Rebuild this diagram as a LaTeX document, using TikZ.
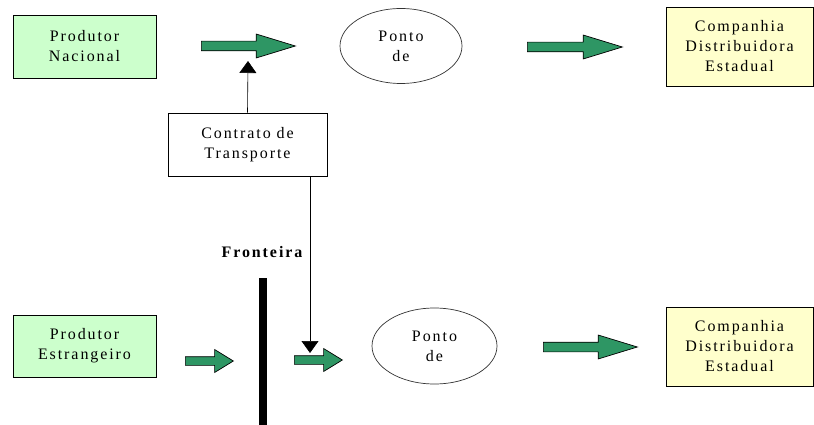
\documentclass[tikz,border=0pt]{standalone}
\usepackage{fontspec}
\setmainfont{Liberation Serif}[LetterSpace=12]
\usepackage{tikz}
\usetikzlibrary{arrows.meta,shapes.geometric,shapes.arrows}
\definecolor{verdeclaro}{RGB}{204,255,204}
\definecolor{amareloclaro}{RGB}{255,255,204}
\definecolor{verdeseta}{RGB}{46,150,100}

\begin{document}
\begin{tikzpicture}[x=1pt, y=-1pt, font=\fontsize{16}{20}\selectfont,
        caixa/.style={draw, line width=0.8pt, align=center, inner sep=0pt},
        ponto/.style={draw=black!80, ellipse, line width=0.7pt, align=center, inner sep=0pt},
        setalonga/.style={single arrow, draw, fill=verdeseta, line width=0.7pt, inner sep=4.5pt,
            minimum width=15pt, single arrow tip angle=34, minimum height=#1, anchor=tail},
        setacurta/.style={single arrow, draw, fill=verdeseta, line width=0.7pt, inner sep=4pt,
            minimum width=16pt, single arrow tip angle=63, minimum height=#1, anchor=tail},
        contrato/.style={-{Triangle[width=17pt,length=12pt]}, line width=0.6pt}]
        \useasboundingbox (0,0) rectangle (814,425);
        % linha de cima
        \node[caixa, fill=verdeclaro, minimum width=143pt, minimum height=63pt] (prodnac) at (84.5,46.5) {Produtor\\Nacional};
        \node[setalonga=94pt] (s1) at (201,46) {};
        \node[ponto, minimum width=122pt, minimum height=75pt] (ponto1) at (401,46) {Ponto\\de};
        \node[setalonga=95pt] (s2) at (527,47) {};
        \node[caixa, fill=amareloclaro, minimum width=147pt, minimum height=79pt] (comp1) at (739.5,46.5) {Companhia\\Distribuidora\\Estadual};
        % contrato
        \node[caixa, fill=white, minimum width=159pt, minimum height=63pt] (transp) at (247.5,144.5) {Contrato de\\Transporte};
        \coordinate (topo) at (248,61);
        \draw[contrato] (transp.north) -- (topo);
        % fronteira
        \node[font=\fontsize{16}{20}\selectfont\bfseries] (front) at (262,252) {Fronteira};
        \fill[black] (259,278) rectangle (267,425);
        % linha de baixo
        \node[caixa, fill=verdeclaro, minimum width=143pt, minimum height=62pt] (prodest) at (84.5,346) {Produtor\\Estrangeiro};
        \node[setacurta=48pt] (s3) at (185,361) {};
        \node[setacurta=48pt] (s4) at (294,360) {};
        \coordinate (fim) at (310,353);
        \draw[contrato] (transp.south -| fim) -- (fim);
        \node[ponto, minimum width=125pt, minimum height=76pt] (ponto2) at (434.5,346) {Ponto\\de};
        \node[setalonga=94pt] (s5) at (543,347) {};
        \node[caixa, fill=amareloclaro, minimum width=147pt, minimum height=79pt] (comp2) at (739.5,346.5) {Companhia\\Distribuidora\\Estadual};
    \end{tikzpicture}
\end{document}
